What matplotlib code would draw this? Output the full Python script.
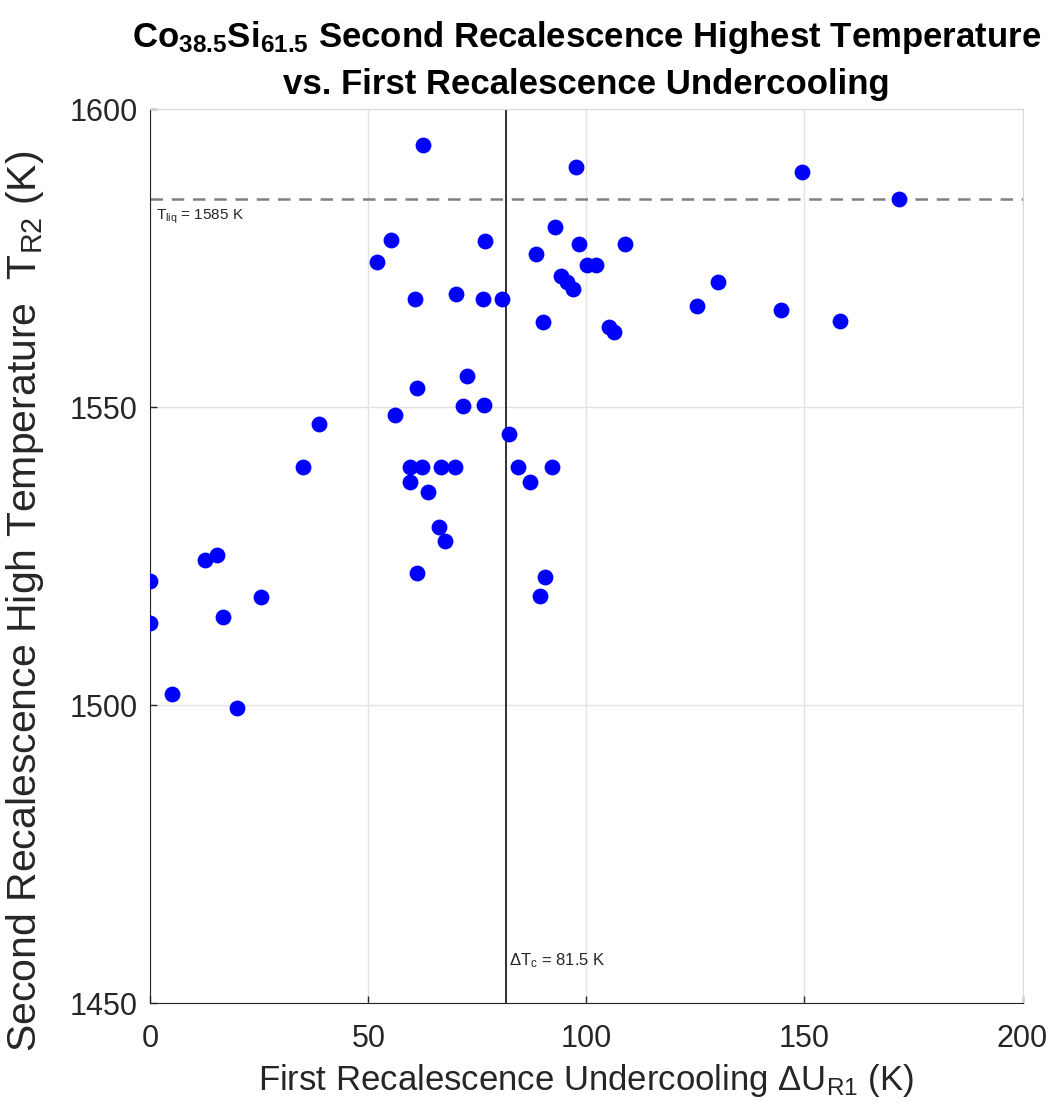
import matplotlib
matplotlib.use("Agg")
import matplotlib.pyplot as plt

plt.rcParams['font.family'] = ['Liberation Sans', 'DejaVu Sans']
plt.rcParams['mathtext.default'] = 'regular'

# first recalescence undercooling (K)
undercooling = [62.5, 97.6, 149.5, 171.7, 92.9, 55.2, 76.8, 98.4, 108.8, 88.5,
                51.9, 100.2, 102.2, 94.1, 95.6, 97.0, 130.1, 70.0, 60.6, 76.2,
                80.7, 125.4, 144.6, 158.2, 90.0, 105.1, 106.4, 72.7, 61.2, 71.8,
                76.5, 56.2, 38.7, 82.2, 34.9, 59.6, 62.4, 66.7, 69.8, 84.4,
                92.1, 59.5, 63.7, 87.1, 66.1, 67.5, 61.2, 90.4, 89.4, 15.2,
                12.5, 0.0, 0.0, 25.4, 16.6, 4.9, 19.9]
# second recalescence highest temperature (K)
t_r2 = [1594.1, 1590.3, 1589.5, 1584.9, 1580.3, 1578.1, 1577.9, 1577.4, 1577.4, 1575.7,
        1574.4, 1573.9, 1573.9, 1572.1, 1571.1, 1569.8, 1571.1, 1569.1, 1568.2, 1568.1,
        1568.1, 1567.0, 1566.3, 1564.5, 1564.4, 1563.4, 1562.7, 1555.2, 1553.3, 1550.2,
        1550.4, 1548.7, 1547.2, 1545.6, 1540.0, 1540.0, 1540.0, 1540.0, 1540.0, 1540.0,
        1540.0, 1537.4, 1535.8, 1537.4, 1529.9, 1527.6, 1522.2, 1521.6, 1518.4, 1525.2,
        1524.4, 1520.8, 1513.8, 1518.2, 1514.9, 1501.9, 1499.5]

t_liq = 1585
dt_c = 81.5

fig = plt.figure(figsize=(10.55, 11.09), dpi=100)
ax = fig.add_axes([0.1425, 0.0953, 0.8267, 0.8061])

ax.scatter(undercooling, t_r2, s=130, color=(0, 0, 1), zorder=3, linewidths=0)
ax.axhline(t_liq, color='#808080', linestyle=(0, (5, 3.5)), linewidth=1.8, zorder=2)
ax.axvline(dt_c, color='#303030', linewidth=1.4, zorder=2)

ax.text(1.4, t_liq - 1.5, '$T_{liq}$ = 1585 K', fontsize=11, va='top', ha='left',
        color='#262626')
ax.text(dt_c + 0.8, 1457.2, r'$\Delta T_c$ = 81.5 K', fontsize=12, va='center',
        ha='left', color='#262626')

ax.set_xlim(0, 200)
ax.set_ylim(1450, 1600)
ax.set_xticks([0, 50, 100, 150, 200])
ax.set_yticks([1450, 1500, 1550, 1600])
ax.grid(True, color='#e2e2e2', linewidth=1.0, zorder=0)
ax.set_axisbelow(True)
ax.tick_params(direction='in', length=5, width=1, labelsize=22, colors='#262626')
ax.tick_params(axis='x', pad=15)
ax.tick_params(axis='y', pad=9)
for side in ['left', 'bottom']:
    ax.spines[side].set_color('#262626')
for side in ['top', 'right']:
    ax.spines[side].set_color('#d8d8d8')

ax.set_xlabel(r'First Recalescence Undercooling $\Delta U_{R1}$ (K)', fontsize=25,
              color='#262626', labelpad=6)
ax.set_ylabel(r'Second Recalescence High Temperature  $T_{R2}$ (K)', fontsize=29.5,
              color='#262626')
ax.yaxis.set_label_coords(-0.12, 0.45)
ax.set_title('Co$_{38.5}$Si$_{61.5}$ Second Recalescence Highest Temperature\n'
             'vs. First Recalescence Undercooling', fontsize=25, fontweight='bold',
             linespacing=1.45, pad=11)

plt.savefig('out.png', dpi=100)
